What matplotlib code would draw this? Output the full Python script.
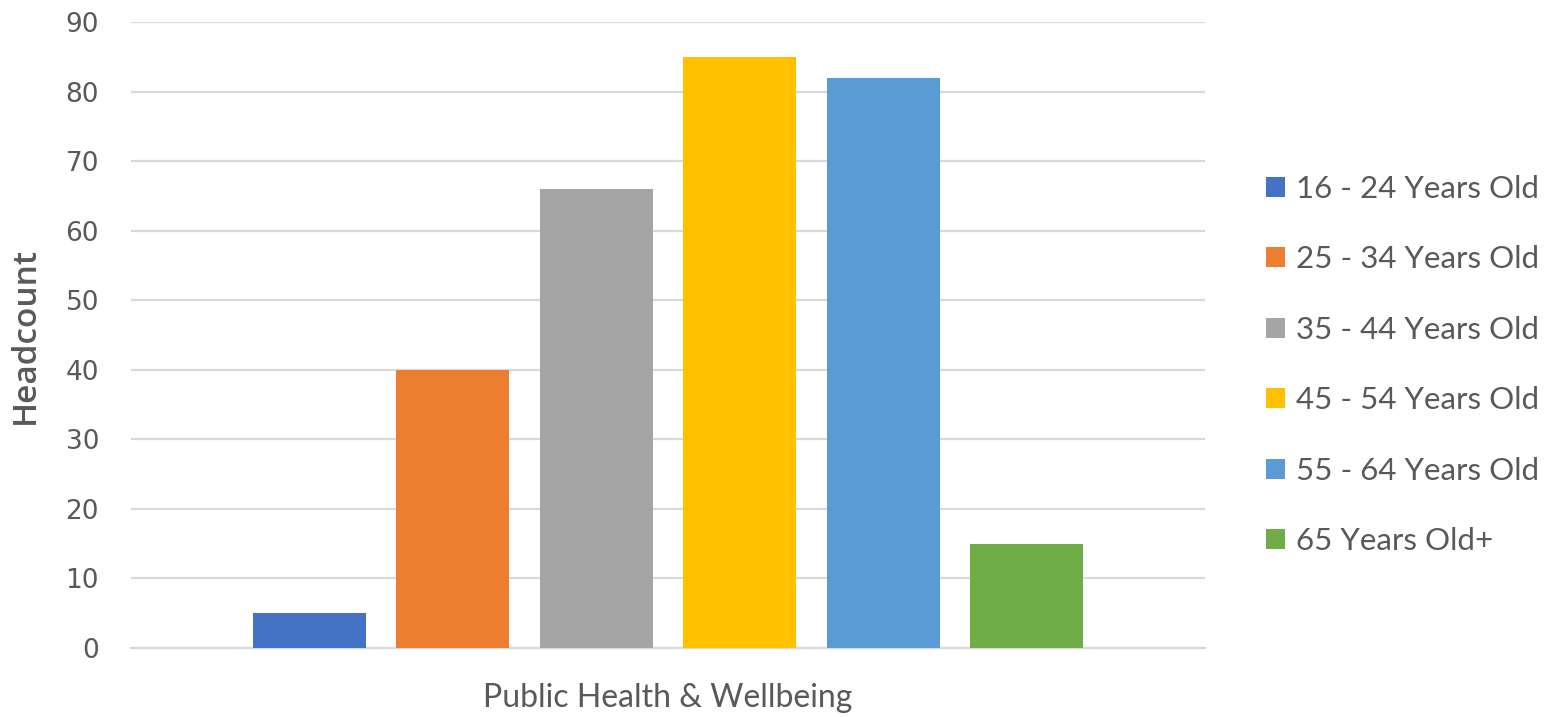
import numpy as np
import matplotlib.pyplot as plt

# headcount by age band for one directorate
category = "Public Health & Wellbeing"
age_bands = ["16 - 24 Years Old", "25 - 34 Years Old", "35 - 44 Years Old",
             "45 - 54 Years Old", "55 - 64 Years Old", "65 Years Old+"]
headcount = [5, 40, 66, 85, 82, 15]
colors = ["#4472C4", "#ED7D31", "#A5A5A5", "#FFC000", "#5B9BD5", "#70AD47"]

text_color = "#595959"
grid_color = "#D9D9D9"

fig = plt.figure(figsize=(15.5, 7.17), dpi=100)
ax = fig.add_axes([0.0845, 0.0962, 0.6929, 0.8731])

spacing = 0.1336
width = 0.105
offsets = (np.arange(len(age_bands)) - (len(age_bands) - 1) / 2) * spacing
for off, val, col, lab in zip(offsets, headcount, colors, age_bands):
    ax.bar(off, val, width=width, color=col, label=lab, zorder=3)

ax.set_xlim(-0.5, 0.5)
ax.set_ylim(0, 90)
ax.set_yticks(np.arange(0, 91, 10))
ax.yaxis.grid(True, color=grid_color, linewidth=1.6, zorder=0)
ax.set_xticks([0])
ax.set_xticklabels([category], fontsize=23, color=text_color, family="Lato")
ax.tick_params(axis="x", length=0, pad=25)
ax.tick_params(axis="y", length=0, pad=23, labelsize=19, labelcolor=text_color)
for lbl in ax.get_yticklabels():
    lbl.set_family("DejaVu Sans")

for side in ["top", "right", "left"]:
    ax.spines[side].set_visible(False)
ax.spines["bottom"].set_color(grid_color)
ax.spines["bottom"].set_linewidth(1.6)

ax.set_ylabel("Headcount", fontsize=24, color=text_color, family="Open Sans",
              fontweight="semibold", labelpad=17)

fig.legend(loc="center left", bbox_to_anchor=(0.817, 0.491), frameon=False,
           prop={"family": "Lato", "size": 22.5}, labelcolor=text_color,
           handlelength=0.61, handleheight=0.61, handletextpad=0.35,
           labelspacing=1.36, borderpad=0, borderaxespad=0)

fig.savefig("out.png", dpi=100)
